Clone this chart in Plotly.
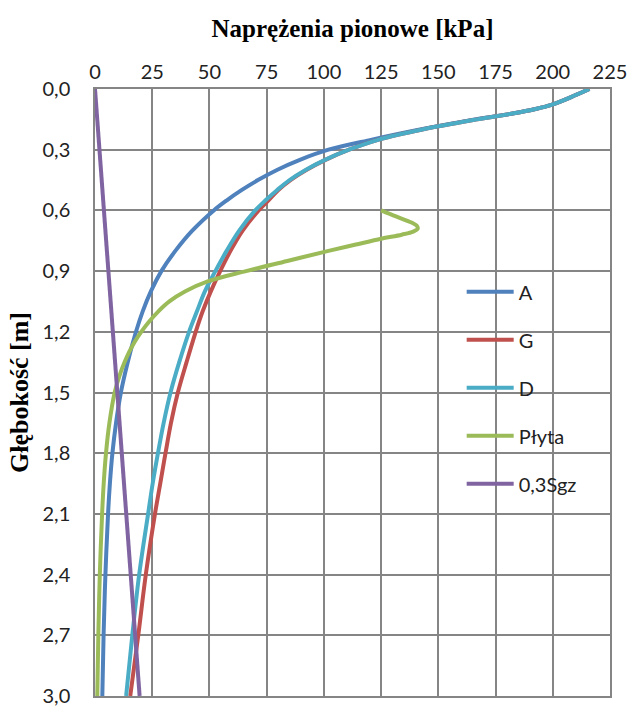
import plotly.graph_objects as go

# ---- data ----
depth_ADG = [0, 0.04, 0.08, 0.1, 0.12, 0.15, 0.2, 0.25, 0.3, 0.35, 0.4, 0.45, 0.5, 0.55, 0.6,
             0.7, 0.8, 0.9, 1.0, 1.1, 1.2, 1.35, 1.5, 1.65, 1.8, 1.95, 2.1, 2.4, 2.7, 3.0]
stress_A = [216, 208, 199, 192, 183, 166, 142, 121, 102, 89.5, 79.5, 71.2, 64, 57.6, 51.9,
            42.5, 35.1, 29.0, 24.4, 20.8, 17.9, 14.3, 11.3, 9.2, 7.6, 6.5, 5.7, 4.55, 3.75, 3.2]
stress_G = [216, 208, 199, 192, 183, 167, 143, 124, 111, 100.7, 92.3, 85.4, 80, 75.8, 71.5,
            64.5, 59.2, 54.7, 50.6, 47, 44, 40, 36.2, 33.2, 30.8, 28.5, 26.2, 22.2, 18.9, 15.4]
stress_D = [216, 208, 199, 192, 183, 167, 143, 124, 111, 100.5, 92, 85, 79.5, 74.5, 70,
            63, 57.5, 52.6, 48, 44.5, 41.1, 36.8, 33, 30, 27.5, 25.2, 23.2, 19.3, 16.3, 13.6]
depth_P = [0.6, 0.63, 0.66, 0.675, 0.69, 0.705, 0.72, 0.74, 0.77, 0.8, 0.85, 0.9, 0.95,
           1.0, 1.05, 1.1, 1.15, 1.2, 1.25, 1.3, 1.35, 1.4, 1.5, 1.65, 1.8, 1.95, 2.1,
           2.4, 2.7, 3.0]
stress_P = [125, 131.5, 138.3, 140.5, 141, 139, 134, 125, 113.5, 102, 84, 66, 49.5,
            39.5, 32.5, 27.6, 23.6, 20.2, 17.3, 14.9, 12.9, 11.2, 8.6, 6.3, 4.8, 3.8, 3.1,
            2.1, 1.45, 1.0]
depth_S = [0, 3.0]
stress_S = [0, 19.5]

names = ["A", "G", "D", "Płyta", "0,3Sgz"]
colors = ["#4F81BD", "#C0504D", "#4BACC6", "#9BBB59", "#8064A2"]
series = [(stress_A, depth_ADG), (stress_G, depth_ADG), (stress_D, depth_ADG),
          (stress_P, depth_P), (stress_S, depth_S)]

x_ticks = [0, 25, 50, 75, 100, 125, 150, 175, 200, 225]
y_ticks = [0, 0.3, 0.6, 0.9, 1.2, 1.5, 1.8, 2.1, 2.4, 2.7, 3.0]

fig = go.Figure()
for name, col, (xs, ys) in zip(names, colors, series):
    fig.add_trace(go.Scatter(
        x=xs, y=ys, mode="lines", name=name, legendgroup=name,
        line=dict(color=col, width=4, shape="spline", smoothing=1.0),
    ))

tick_font = dict(family="Lato, Open Sans, sans-serif", size=20, color="#222222")
title_font = dict(family="Liberation Serif, Times New Roman, serif", size=25, color="#000000")
grid_col = "#858585"

fig.update_layout(
    width=636, height=716,
    margin=dict(l=94.5, r=19, t=89, b=9),
    paper_bgcolor="white", plot_bgcolor="white",
    separators=", ",
    showlegend=True,
    legend=dict(
        x=0.712, y=0.698, xanchor="left", yanchor="top",
        bgcolor="rgba(0,0,0,0)", borderwidth=0,
        font=dict(family="Lato, Open Sans, sans-serif", size=20, color="#222222"),
        tracegroupgap=19, itemwidth=47,
    ),
    xaxis=dict(
        side="top", range=[0, 225], tickvals=x_ticks, ticks="",
        showgrid=True, gridcolor=grid_col, gridwidth=1.5,
        showline=True, linecolor=grid_col, linewidth=1.5, mirror=True,
        zeroline=False, tickfont=tick_font,
        title=dict(text="<b>Naprężenia pionowe [kPa]</b>", font=title_font, standoff=15),
    ),
    yaxis=dict(
        range=[3.0, 0], tickvals=y_ticks, tickformat=".1f", ticks="",
        showgrid=True, gridcolor=grid_col, gridwidth=1.5,
        showline=True, linecolor=grid_col, linewidth=1.5, mirror=True,
        zeroline=False, tickfont=tick_font, ticklabelstandoff=19,
        title=dict(text="<b>Głębokość [m]</b>", font=dict(title_font, size=26), standoff=6),
    ),
)

fig.write_html("out.html")
